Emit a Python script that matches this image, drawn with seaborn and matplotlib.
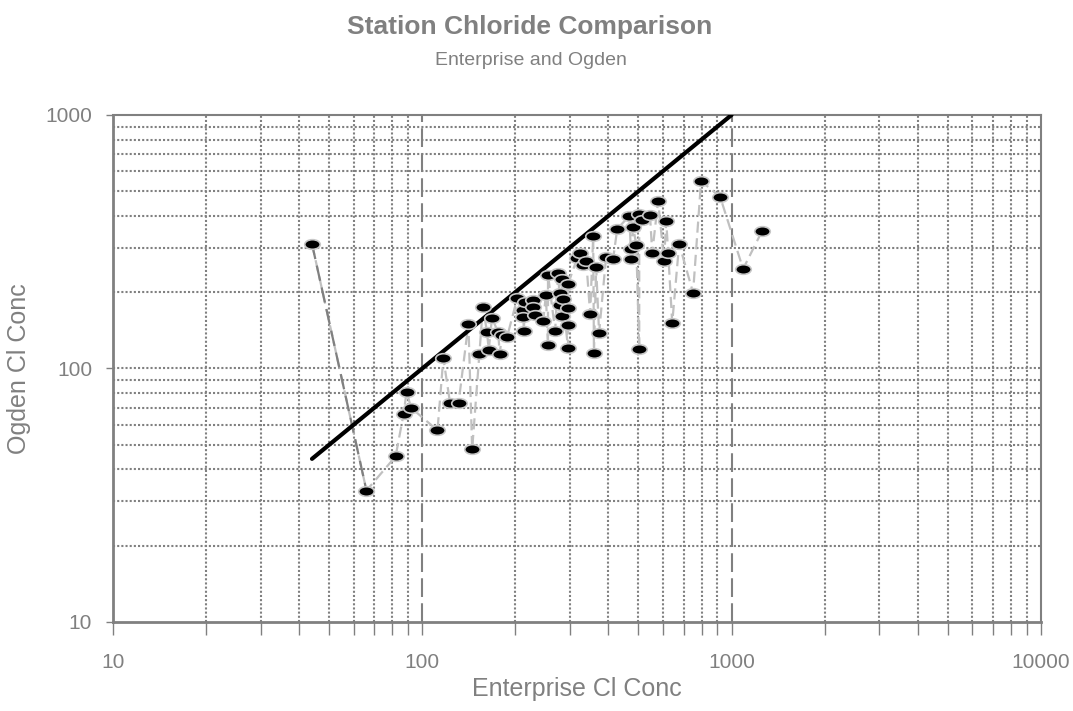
import numpy as np
import pandas as pd
import matplotlib
matplotlib.use("Agg")
import matplotlib.pyplot as plt
import matplotlib.path as mpath
from matplotlib.transforms import Affine2D
import seaborn as sns

# Paired chloride concentrations (Enterprise vs Ogden)
enterprise = [44, 66, 82, 87, 89, 92, 112, 117, 123, 131, 141, 145, 153, 157, 162, 164,
              168, 176, 178, 181, 188, 203, 212, 212, 213, 215, 228, 228, 232, 246, 251,
              255, 255, 269, 275, 279, 279, 283, 283, 285, 296, 296, 296, 296, 317, 324,
              331, 339, 349, 357, 359, 365, 373, 393, 414, 427, 467, 474, 474, 481, 492,
              503, 503, 514, 545, 554, 579, 605, 615, 624, 643, 677, 751, 797, 919, 1090,
              1256]
ogden = [310, 33, 45, 66, 81, 70, 57, 110, 73, 73, 150, 48, 114, 175, 139, 118,
         158, 139, 114, 136, 133, 190, 170, 160, 141, 183, 186, 175, 163, 154, 195,
         234, 124, 141, 238, 199, 178, 225, 161, 188, 215, 173, 149, 120, 273, 286,
         256, 266, 164, 333, 115, 251, 138, 275, 270, 355, 400, 296, 270, 362, 307,
         407, 119, 385, 403, 286, 458, 266, 382, 286, 151, 310, 199, 549, 475, 247,
         349]

x_ticks = [10, 100, 1000, 10000]
x_tick_labels = ["10", "100", "1000", "10000"]
y_ticks = [10, 100, 1000]
y_tick_labels = ["10", "100", "1000"]

title = "Station Chloride Comparison"
subtitle = "Enterprise and Ogden"
x_label = "Enterprise Cl Conc"
y_label = "Ogden Cl Conc"

df = pd.DataFrame({"enterprise": enterprise, "ogden": ogden})
lo = min(enterprise)
ident = pd.DataFrame({"x": [lo, 1000], "y": [lo, 1000]})

sns.set_theme(style="white")
plt.rcParams["font.family"] = ["Liberation Sans", "DejaVu Sans"]

GRAY = "#808080"
fig = plt.figure(figsize=(10.73, 7.11), dpi=100)
ax = fig.add_axes([0.1053, 0.1252, 0.8647, 0.7131])
ax.set_xscale("log")
ax.set_yscale("log")
ax.set_xlim(10, 10000)
ax.set_ylim(10, 1000)

# grid: dotted at every decade step, dashed verticals at the inner decades
minor_x = [m * d for d in (10, 100, 1000) for m in range(2, 10)]
minor_y = [m * d for d in (10, 100) for m in range(2, 10)]
for v in minor_x:
    ax.axvline(v, color=GRAY, lw=1.5, ls=(0, (1, 1)), zorder=0.5)
for v in x_ticks[1:-1]:
    ax.axvline(v, color=GRAY, lw=1.5, ls=(0, (9, 3)), zorder=0.5)
for v in minor_y + y_ticks[1:-1]:
    ax.axhline(v, color=GRAY, lw=1.5, ls=(0, (1, 1)), zorder=0.5)

# connecting line through the samples in order of Enterprise value
sns.lineplot(data=df, x="enterprise", y="ogden", ax=ax, sort=True, estimator=None,
             color="#c0c0c0", lw=1.6, dashes=False, zorder=2,
             linestyle=(0, (5, 2.5)))
sns.lineplot(data=df.sort_values("enterprise").iloc[:2], x="enterprise", y="ogden",
             ax=ax, sort=False, estimator=None, color=GRAY, lw=1.6, zorder=2.1,
             linestyle=(0, (7, 3)))

# 1:1 reference line
sns.lineplot(data=ident, x="x", y="y", ax=ax, color="black", lw=3, zorder=3)

ellipse = mpath.Path.unit_circle().transformed(Affine2D().scale(1.0, 0.62))
sns.scatterplot(data=df, x="enterprise", y="ogden", ax=ax, marker=ellipse, s=125,
                color="black", edgecolor="#c8c8c8", linewidth=1.2, zorder=4)

ax.set_xticks(x_ticks)
ax.set_xticklabels(x_tick_labels)
ax.set_xticks(minor_x, minor=True)
ax.set_xticklabels([], minor=True)
ax.set_yticks(y_ticks)
ax.set_yticklabels(y_tick_labels)
ax.set_yticks(minor_y, minor=True)
ax.set_yticklabels([], minor=True)
ax.tick_params(axis="x", which="both", direction="out", length=9, width=1,
               color=GRAY, labelcolor=GRAY, labelsize=15, pad=13, bottom=True)
ax.tick_params(axis="y", which="major", direction="out", length=5, width=1,
               color=GRAY, labelcolor=GRAY, labelsize=15, pad=10, left=True)
ax.tick_params(axis="y", which="minor", length=0)

for side, sp in ax.spines.items():
    sp.set_color(GRAY)
    sp.set_linewidth(2 if side in ("left", "bottom") else 1.5)
    sp.set_visible(True)

ax.set_xlabel(x_label, color=GRAY, fontsize=18, labelpad=4)
ax.set_ylabel(y_label, color=GRAY, fontsize=18, labelpad=10)

fig.text(0.494, 0.962, title, ha="center", va="center", color=GRAY,
         fontsize=19, fontweight="bold")
fig.text(0.495, 0.915, subtitle, ha="center", va="center", color=GRAY, fontsize=14)

fig.savefig("out.png", dpi=100, facecolor="white")
